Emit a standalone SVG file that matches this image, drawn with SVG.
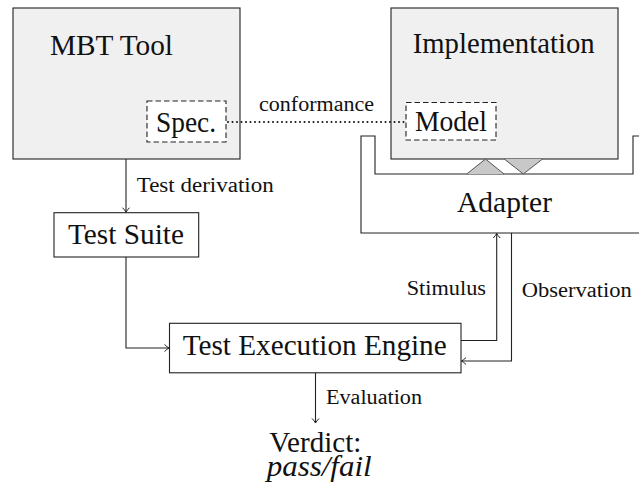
<svg xmlns="http://www.w3.org/2000/svg" width="639" height="491" viewBox="0 0 639 491">
  <style>
    text { font-family: 'Liberation Serif', 'DejaVu Serif', 'Noto Serif', 'Times New Roman', Times, serif; fill: #111111; }
    .box { fill: #ffffff; stroke: #222222; stroke-width: 1.1; }
    .gray { fill: #f0f0f0; stroke: #222222; stroke-width: 1.1; }
    .dash { fill: #ffffff; stroke: #222222; stroke-width: 1.1; stroke-dasharray: 5.5 3; }
    .wire { fill: none; stroke: #222222; stroke-width: 1.1; }
    .dots { fill: none; stroke: #111111; stroke-width: 2; stroke-linecap: round; stroke-dasharray: 0 4.5; }
    .tri { fill: #c8c8c8; stroke: none; }
    .triedge { fill: none; stroke: #444444; stroke-width: 0.9; }
    .big { font-size: 29px; }
    .small { font-size: 20px; }
    .it { font-style: italic; }
  </style>
  <defs>
    <marker id="arr" markerWidth="10" markerHeight="10" refX="7" refY="5" orient="auto" markerUnits="userSpaceOnUse">
      <path d="M 2.5,1.5 Q 5,4 7,5 Q 5,6 2.5,8.5" fill="none" stroke="#222222" stroke-width="1"/>
    </marker>
  </defs>

  <!-- MBT tool with its specification -->
  <g id="mbt-tool">
    <rect class="gray" x="13" y="8" width="227" height="151"/>
    <text class="big" x="50" y="55" textLength="123" lengthAdjust="spacingAndGlyphs">MBT Tool</text>
  </g>
  <g id="spec">
    <rect class="dash" x="147" y="101" width="79" height="41"/>
    <text class="big" x="156" y="131.5" textLength="60" lengthAdjust="spacingAndGlyphs">Spec.</text>
  </g>

  <!-- Adapter (U-shaped, wraps the implementation) -->
  <g id="adapter">
    <path class="box" d="M 361,136 L 375,136 L 375,174 L 633,174 L 633,136 L 645,136 L 645,233 L 361,233 Z"/>
    <text class="big" x="457" y="211.5" textLength="95" lengthAdjust="spacingAndGlyphs">Adapter</text>
  </g>

  <!-- Implementation under test with its model -->
  <g id="implementation">
    <rect class="gray" x="391" y="8" width="227" height="151"/>
    <text class="big" x="412.7" y="53.3" textLength="182" lengthAdjust="spacingAndGlyphs">Implementation</text>
  </g>
  <g id="model">
    <rect class="dash" x="406" y="102.5" width="90" height="37.5"/>
    <text class="big" x="415" y="130.5" textLength="72" lengthAdjust="spacingAndGlyphs">Model</text>
  </g>

  <!-- Interface triangles between implementation and adapter -->
  <g id="interface">
    <polygon class="tri" points="466.7,174 485.5,159 504,174"/>
    <polyline class="triedge" points="466.7,174 485.5,159 504,174"/>
    <polygon class="tri" points="504.3,159 523.3,174 542.5,159"/>
    <polyline class="triedge" points="504.3,159 523.3,174 542.5,159"/>
  </g>

  <g id="test-suite">
    <rect class="box" x="54" y="212.7" width="144.7" height="44.3"/>
    <text class="big" x="68" y="244" textLength="116" lengthAdjust="spacingAndGlyphs">Test Suite</text>
  </g>

  <g id="test-execution-engine">
    <rect class="box" x="169.5" y="323.3" width="291.5" height="49.5"/>
    <text class="big" x="182.7" y="355" textLength="264" lengthAdjust="spacingAndGlyphs">Test Execution Engine</text>
  </g>

  <g id="verdict">
    <text class="big" x="269.3" y="452" textLength="92" lengthAdjust="spacingAndGlyphs">Verdict:</text>
    <text class="big it" x="266.7" y="476" textLength="105" lengthAdjust="spacingAndGlyphs">pass/fail</text>
  </g>

  <!-- Connectors -->
  <g id="connectors">
    <line class="dots" x1="228" y1="122" x2="405" y2="122"/>
    <path class="wire" d="M 126,159 L 126,212.2" marker-end="url(#arr)"/>
    <path class="wire" d="M 126,257 L 126,348 L 169,348" marker-end="url(#arr)"/>
    <path class="wire" d="M 461,340.5 L 496.7,340.5 L 496.7,233.5" marker-end="url(#arr)"/>
    <path class="wire" d="M 511.5,233 L 511.5,361 L 461.5,361" marker-end="url(#arr)"/>
    <path class="wire" d="M 315.5,373 L 315.5,423" marker-end="url(#arr)"/>
  </g>

  <!-- Connector labels -->
  <g id="labels">
    <text class="small" x="259" y="110.7" textLength="115" lengthAdjust="spacingAndGlyphs">conformance</text>
    <text class="small" x="136.7" y="191.7" textLength="137" lengthAdjust="spacingAndGlyphs">Test derivation</text>
    <text class="small" x="406.7" y="295" textLength="79.3" lengthAdjust="spacingAndGlyphs">Stimulus</text>
    <text class="small" x="521.7" y="296.5" textLength="110" lengthAdjust="spacingAndGlyphs">Observation</text>
    <text class="small" x="326" y="404.3" textLength="96" lengthAdjust="spacingAndGlyphs">Evaluation</text>
  </g>
</svg>
